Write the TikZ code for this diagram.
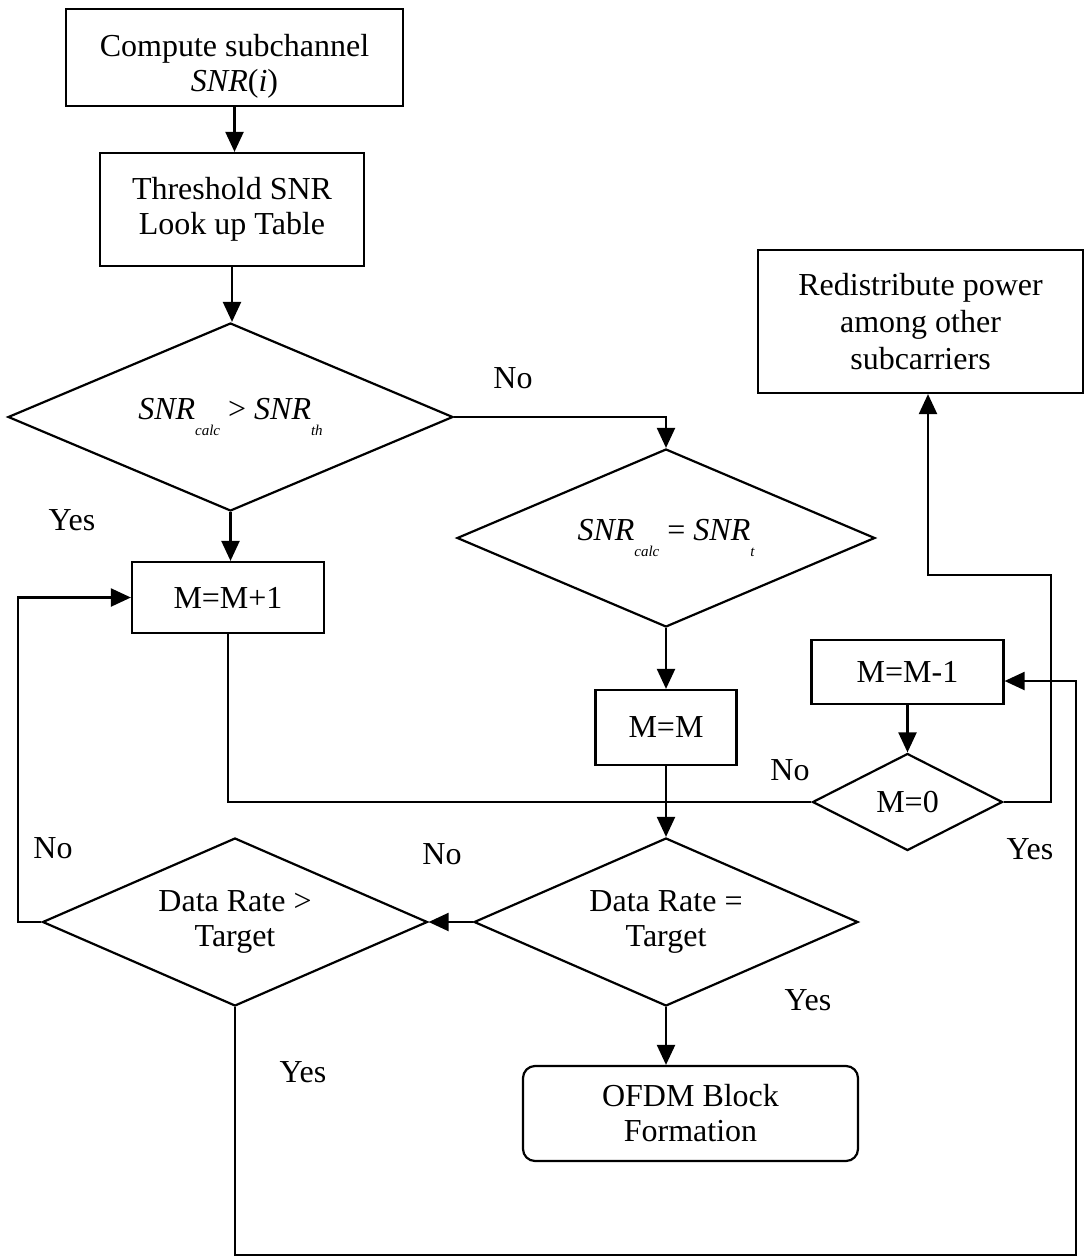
\documentclass[tikz,border=0pt]{standalone}
\usepackage{fontspec}
\setmainfont{Liberation Serif}
\usetikzlibrary{shapes.geometric,arrows.meta}
% italic subscript set low, as in the equation editor output
\newcommand{\lowsub}[1]{\raisebox{-8pt}{\fontsize{7.5}{8}\selectfont\itshape #1}}
\begin{document}
\begin{tikzpicture}[x=0.5pt,y=-0.5pt,
  every node/.style={font=\fontsize{16}{17.5}\selectfont},
  proc/.style={draw, line width=1.1pt, rectangle, align=center, inner sep=0pt},
  decide/.style={draw, line width=1.1pt, diamond, aspect=2.3, align=center, inner sep=0pt},
  conn/.style={line width=1.1pt},
  arr/.style={conn, -{Triangle[length=10pt,width=9pt]}},
  lbl/.style={inner sep=0pt}]
\useasboundingbox (0,0) rectangle (1086,1258);

% process boxes and decisions
\node[proc, minimum width=168.5pt, minimum height=48.5pt] (b1) at (234.5,57.5) {\rule{0pt}{20pt}Compute subchannel\\\textit{SNR}(\textit{i})};
\node[proc, minimum width=132pt, minimum height=56.5pt] (b2) at (232,209.5) {Threshold SNR\\Look up Table};
\node[decide, minimum width=222.5pt, minimum height=94pt] (d1) at (230.5,417) {\textit{SNR}\lowsub{calc}\hspace{4pt}>\hspace{4pt}\textit{SNR}\lowsub{th}};
\node[decide, minimum width=209pt, minimum height=89pt] (d2) at (666,538) {\textit{SNR}\lowsub{calc}\hspace{4pt}=\hspace{4pt}\textit{SNR}\lowsub{t}};
\node[proc, minimum width=96pt, minimum height=35.5pt] (mp1) at (228,597.5) {M=M+1};
\node[proc, minimum width=70.5pt, minimum height=37.5pt] (mm) at (666,727.5) {M=M};
\node[proc, minimum width=96pt, minimum height=32pt] (mm1) at (907.5,672) {M=M-1};
\node[decide, aspect=2, minimum width=95pt, minimum height=48.5pt] (m0) at (907.5,802) {M=0};
\node[proc, minimum width=162.5pt, minimum height=71.5pt, font=\fontsize{16}{18.5}\selectfont] (rd) at (920.5,321.5) {Redistribute power\\among other\\subcarriers};
\node[decide, minimum width=192pt, minimum height=84pt] (dre) at (666,922) {Data Rate =\\Target};
\node[decide, minimum width=192.5pt, minimum height=84pt] (drg) at (235,922) {Data Rate >\\Target};
\node[proc, rounded corners=6pt, minimum width=167.5pt, minimum height=47.5pt] (of) at (690.5,1113.5) {OFDM Block\\Formation};

% routing points
\coordinate (rr) at (1051,575);
\coordinate (rt) at (928,575);
\coordinate (lp) at (18,597.5);
\coordinate (br) at (1076,1255);
\coordinate (rin) at (1076,681);

% connectors
\draw[arr] (b1.south) -- (b1.south |- b2.north);
\draw[arr] (b2.south) -- (b2.south |- d1.north);
\draw[arr] (d1.south) -- (d1.south |- mp1.north);
\draw[arr] (d1.east) -| (d2.north);
\draw[arr] (d2.south) -- (mm.north);
\draw[conn] (mp1.south) |- (m0.west);
\draw[arr] (mm.south) -- (dre.north);
\draw[arr] (mm1.south) -- (m0.north);
\draw[arr] (m0.east) -| (rr) -- (rt) -- (rt |- rd.south);
\draw[arr] (dre.west) -- (drg.east);
\draw[arr] (drg.west) -| (lp) -- (mp1.west);
\draw[arr] (drg.south) |- (br) -- (rin) -- (rin -| mm1.east);
\draw[arr] (dre.south) -- (dre.south |- of.north);

% branch labels
\node[lbl] (l1) at (513,378) {No};
\node[lbl] (l2) at (72,520) {Yes};
\node[lbl] (l3) at (790,770) {No};
\node[lbl] (l4) at (1030,849) {Yes};
\node[lbl] (l5) at (53,848) {No};
\node[lbl] (l6) at (442,854) {No};
\node[lbl] (l7) at (808,1000) {Yes};
\node[lbl] (l8) at (303,1072) {Yes};
\end{tikzpicture}
\end{document}
